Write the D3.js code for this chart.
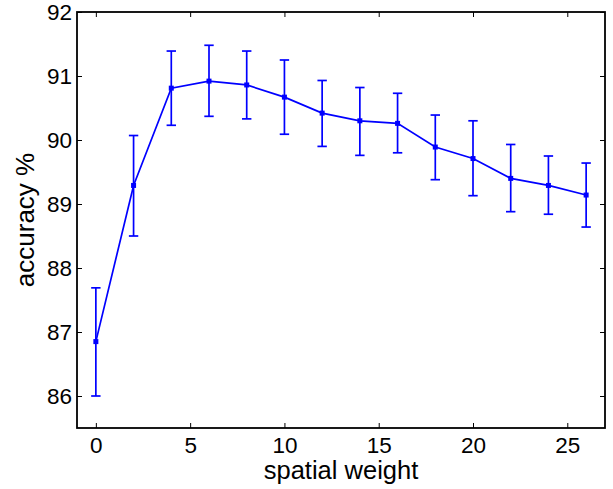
<!DOCTYPE html>
<html>
<head>
<meta charset="utf-8">
<script src="https://cdn.jsdelivr.net/npm/d3@7"></script>
<style>
  body { margin: 0; background: #fff; }
  text { font-family: "Liberation Sans", Arial, sans-serif; fill: #000; }
</style>
</head>
<body>
<svg class="chart"></svg>
<script>
const weights = [0, 2, 4, 6, 8, 10, 12, 14, 16, 18, 20, 22, 24, 26]
const accuracy = [86.85, 89.29, 90.81, 90.92, 90.86, 90.67, 90.42, 90.30, 90.26, 89.89, 89.71, 89.40, 89.29, 89.14]
const errTop = [87.69, 90.07, 91.39, 91.48, 91.39, 91.25, 90.93, 90.82, 90.73, 90.39, 90.30, 89.93, 89.75, 89.64]
const errBottom = [86.00, 88.50, 90.23, 90.37, 90.33, 90.09, 89.90, 89.76, 89.80, 89.38, 89.13, 88.88, 88.84, 88.64]
const xTicks = [0, 5, 10, 15, 20, 25]
const yTicks = [86, 87, 88, 89, 90, 91, 92]

const margin = {top: 12, right: 8, bottom: 61, left: 77}
const width = 613 - margin.left - margin.right,
      height = 489 - margin.top - margin.bottom

const points = weights.map((w, i) => ({w: w, acc: accuracy[i], hi: errTop[i], lo: errBottom[i]}))

const x = d3.scaleLinear().domain([-1, 27]).range([0, width])
const y = d3.scaleLinear().domain([85.5, 92]).range([height, 0])

const svg = d3.select(".chart")
    .attr("width", 613)
    .attr("height", 489)
const chart = svg.append("g")
    .attr("transform", "translate(" + margin.left + "," + margin.top + ")")

// matlab style ticks: inward, mirrored on top/right
const tick = 5
chart.append("g")
    .attr("transform", "translate(0," + height + ")")
    .call(d3.axisBottom(x).tickValues(xTicks).tickSizeInner(-tick).tickSizeOuter(0).tickPadding(9.5))
chart.append("g")
    .call(d3.axisTop(x).tickValues(xTicks).tickSizeInner(-tick).tickSizeOuter(0).tickFormat(""))
chart.append("g")
    .call(d3.axisLeft(y).tickValues(yTicks).tickFormat(d3.format("d")).tickSizeInner(-tick).tickSizeOuter(0).tickPadding(5))
chart.append("g")
    .attr("transform", "translate(" + width + ",0)")
    .call(d3.axisRight(y).tickValues(yTicks).tickSizeInner(-tick).tickSizeOuter(0).tickFormat(""))

chart.selectAll(".domain").remove()
chart.selectAll(".tick line").attr("stroke", "#000").attr("stroke-width", 1)
chart.selectAll(".tick text").style("font-size", "22.5px").attr("fill", "#000")

chart.append("rect")
    .attr("width", width)
    .attr("height", height)
    .attr("fill", "none")
    .attr("stroke", "#000")
    .attr("stroke-width", 1.8)

const blue = "#0000ff"
const cap = 4.7

// error bars
const eb = chart.selectAll(".eb").data(points).enter().append("g")
    .attr("stroke", blue).attr("stroke-width", 1.7)
eb.append("line")
    .attr("x1", d => x(d.w)).attr("x2", d => x(d.w))
    .attr("y1", d => y(d.hi)).attr("y2", d => y(d.lo))
eb.append("line")
    .attr("x1", d => x(d.w) - cap).attr("x2", d => x(d.w) + cap)
    .attr("y1", d => y(d.hi)).attr("y2", d => y(d.hi))
eb.append("line")
    .attr("x1", d => x(d.w) - cap).attr("x2", d => x(d.w) + cap)
    .attr("y1", d => y(d.lo)).attr("y2", d => y(d.lo))

const line = d3.line().x(d => x(d.w)).y(d => y(d.acc))
chart.append("path")
    .datum(points)
    .attr("d", line)
    .attr("fill", "none")
    .attr("stroke", blue)
    .attr("stroke-width", 1.7)

chart.selectAll(".mk").data(points).enter().append("rect")
    .attr("x", d => x(d.w) - 2.5)
    .attr("y", d => y(d.acc) - 2.5)
    .attr("width", 5)
    .attr("height", 5)
    .attr("fill", blue)

// axis labels
chart.append("text")
    .attr("x", width / 2)
    .attr("y", height + 51)
    .attr("text-anchor", "middle")
    .style("font-size", "25.5px")
    .text("spatial weight")
chart.append("text")
    .attr("transform", "rotate(-90)")
    .attr("x", -height / 2)
    .attr("y", -43)
    .attr("text-anchor", "middle")
    .style("font-size", "26px")
    .text("accuracy %")
</script>
</body>
</html>
